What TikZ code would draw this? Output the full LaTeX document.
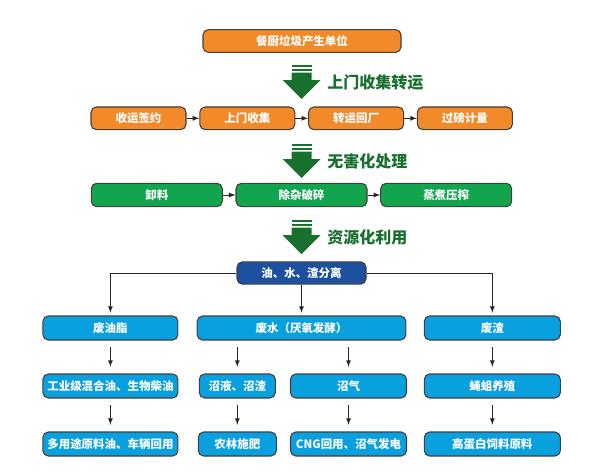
\documentclass[tikz,border=0pt]{standalone}
\usepackage{fontspec}
\newfontfamily\cjk{Noto Sans CJK SC}
\usetikzlibrary{arrows}
\definecolor{orangefill}{RGB}{242,138,42}
\definecolor{greenfill}{RGB}{18,164,78}
\definecolor{sepblue}{RGB}{30,80,160}
\definecolor{lightblue}{RGB}{8,160,222}
\definecolor{stagegreen}{RGB}{24,112,46}
\definecolor{boxline}{RGB}{70,62,55}
\begin{document}
\begin{tikzpicture}[x=0.75pt,y=-0.75pt,
  box/.style={rectangle, rounded corners=4pt, draw=boxline, line width=0.8pt, text=white, inner sep=0pt, minimum height=17pt, font=\cjk\bfseries\fontsize{8.6}{10}\selectfont},
  stagelabel/.style={text=stagegreen, inner sep=0pt, font=\cjk\bfseries\fontsize{12}{14}\selectfont},
  link/.style={-latex, line width=0.7pt, black!85}]
\useasboundingbox (0,0) rectangle (598,475);

\node[box, fill=orangefill, minimum width=148.5pt] (source) at (302,41) {餐厨垃圾产生单位};

% stage arrows
\foreach \t/\lab [count=\i] in {65/上门收集转运, 144/无害化处理, 220/资源化利用} {
  \fill[stagegreen] (291.5,\t) rectangle (311.5,\t+2.3);
  \fill[stagegreen] (291.5,\t+3.8) rectangle (311.5,\t+6.1);
  \fill[stagegreen] (291.5,\t+7.6) -- (311.5,\t+7.6) -- (311.5,\t+15) -- (320.5,\t+15) -- (301.5,\t+34) -- (282.5,\t+15) -- (291.5,\t+15) -- cycle;
  \node[stagelabel, anchor=west] (stage \i) at (327,\t+17) {\lab};
}

\foreach \lab [count=\i] in {收运签约, 上门收集, 转运回厂, 过磅计量} {
  \node[box, fill=orangefill, minimum width=71.25pt] (collect \i) at (29.7+108.8*\i,118.3) {\lab};
}
\foreach \i/\j in {1/2, 2/3, 3/4}
  \draw[link] (collect \i) -- (collect \j);

\foreach \lab [count=\i] in {卸料, 除杂破碎, 蒸煮压榨} {
  \node[box, fill=greenfill, minimum width=98.25pt, minimum height=17.5pt] (treat \i) at (12.1+144.7*\i,195) {\lab};
}
\foreach \i/\j in {1/2, 2/3}
  \draw[link] (treat \i) -- (treat \j);

\node[box, fill=sepblue, minimum width=96.75pt, minimum height=16.7pt] (separate) at (301.5,273) {油、水、渣分离};

\begin{scope}[every node/.style={box, fill=lightblue, minimum height=18pt}]
\node[minimum width=101.25pt] (oil) at (110.4,328) {废油脂};
\node[minimum width=156.5pt] (water) at (301.5,328) {废水（厌氧发酵）};
\node[minimum width=102pt] (residue) at (492.3,328) {废渣};

\node[minimum width=101.25pt] (oil product) at (110.4,386) {工业级混合油、生物柴油};
\node[minimum width=57pt] (digestate) at (237.3,386) {沼液、沼渣};
\node[minimum width=87pt] (biogas) at (348.5,386) {沼气};
\node[minimum width=102pt] (larvae) at (492.3,386) {蝇蛆养殖};

\node[minimum width=101.25pt] (oil use) at (110.4,444) {多用途原料油、车辆回用};
\node[minimum width=58.5pt] (fertilizer) at (237.3,444) {农林施肥};
\node[minimum width=87pt] (power) at (348.5,444) {CNG回用、沼气发电};
\node[minimum width=102pt] (feed) at (492.3,444) {高蛋白饲料原料};
\end{scope}

\draw[link, shorten >=2pt] (separate.west) -| (oil);
\draw[link, shorten >=2pt] (separate) -- (water);
\draw[link, shorten >=2pt] (separate.east) -| (residue);

\begin{scope}[shorten <=5pt, shorten >=5pt]
\draw[link] (oil) -- (oil product);
\draw[link] (oil product) -- (oil use);
\draw[link] (digestate |- water.south) -- (digestate);
\draw[link] (biogas |- water.south) -- (biogas);
\draw[link] (digestate) -- (fertilizer);
\draw[link] (biogas) -- (power);
\draw[link] (residue) -- (larvae);
\draw[link] (larvae) -- (feed);
\end{scope}
\end{tikzpicture}
\end{document}
